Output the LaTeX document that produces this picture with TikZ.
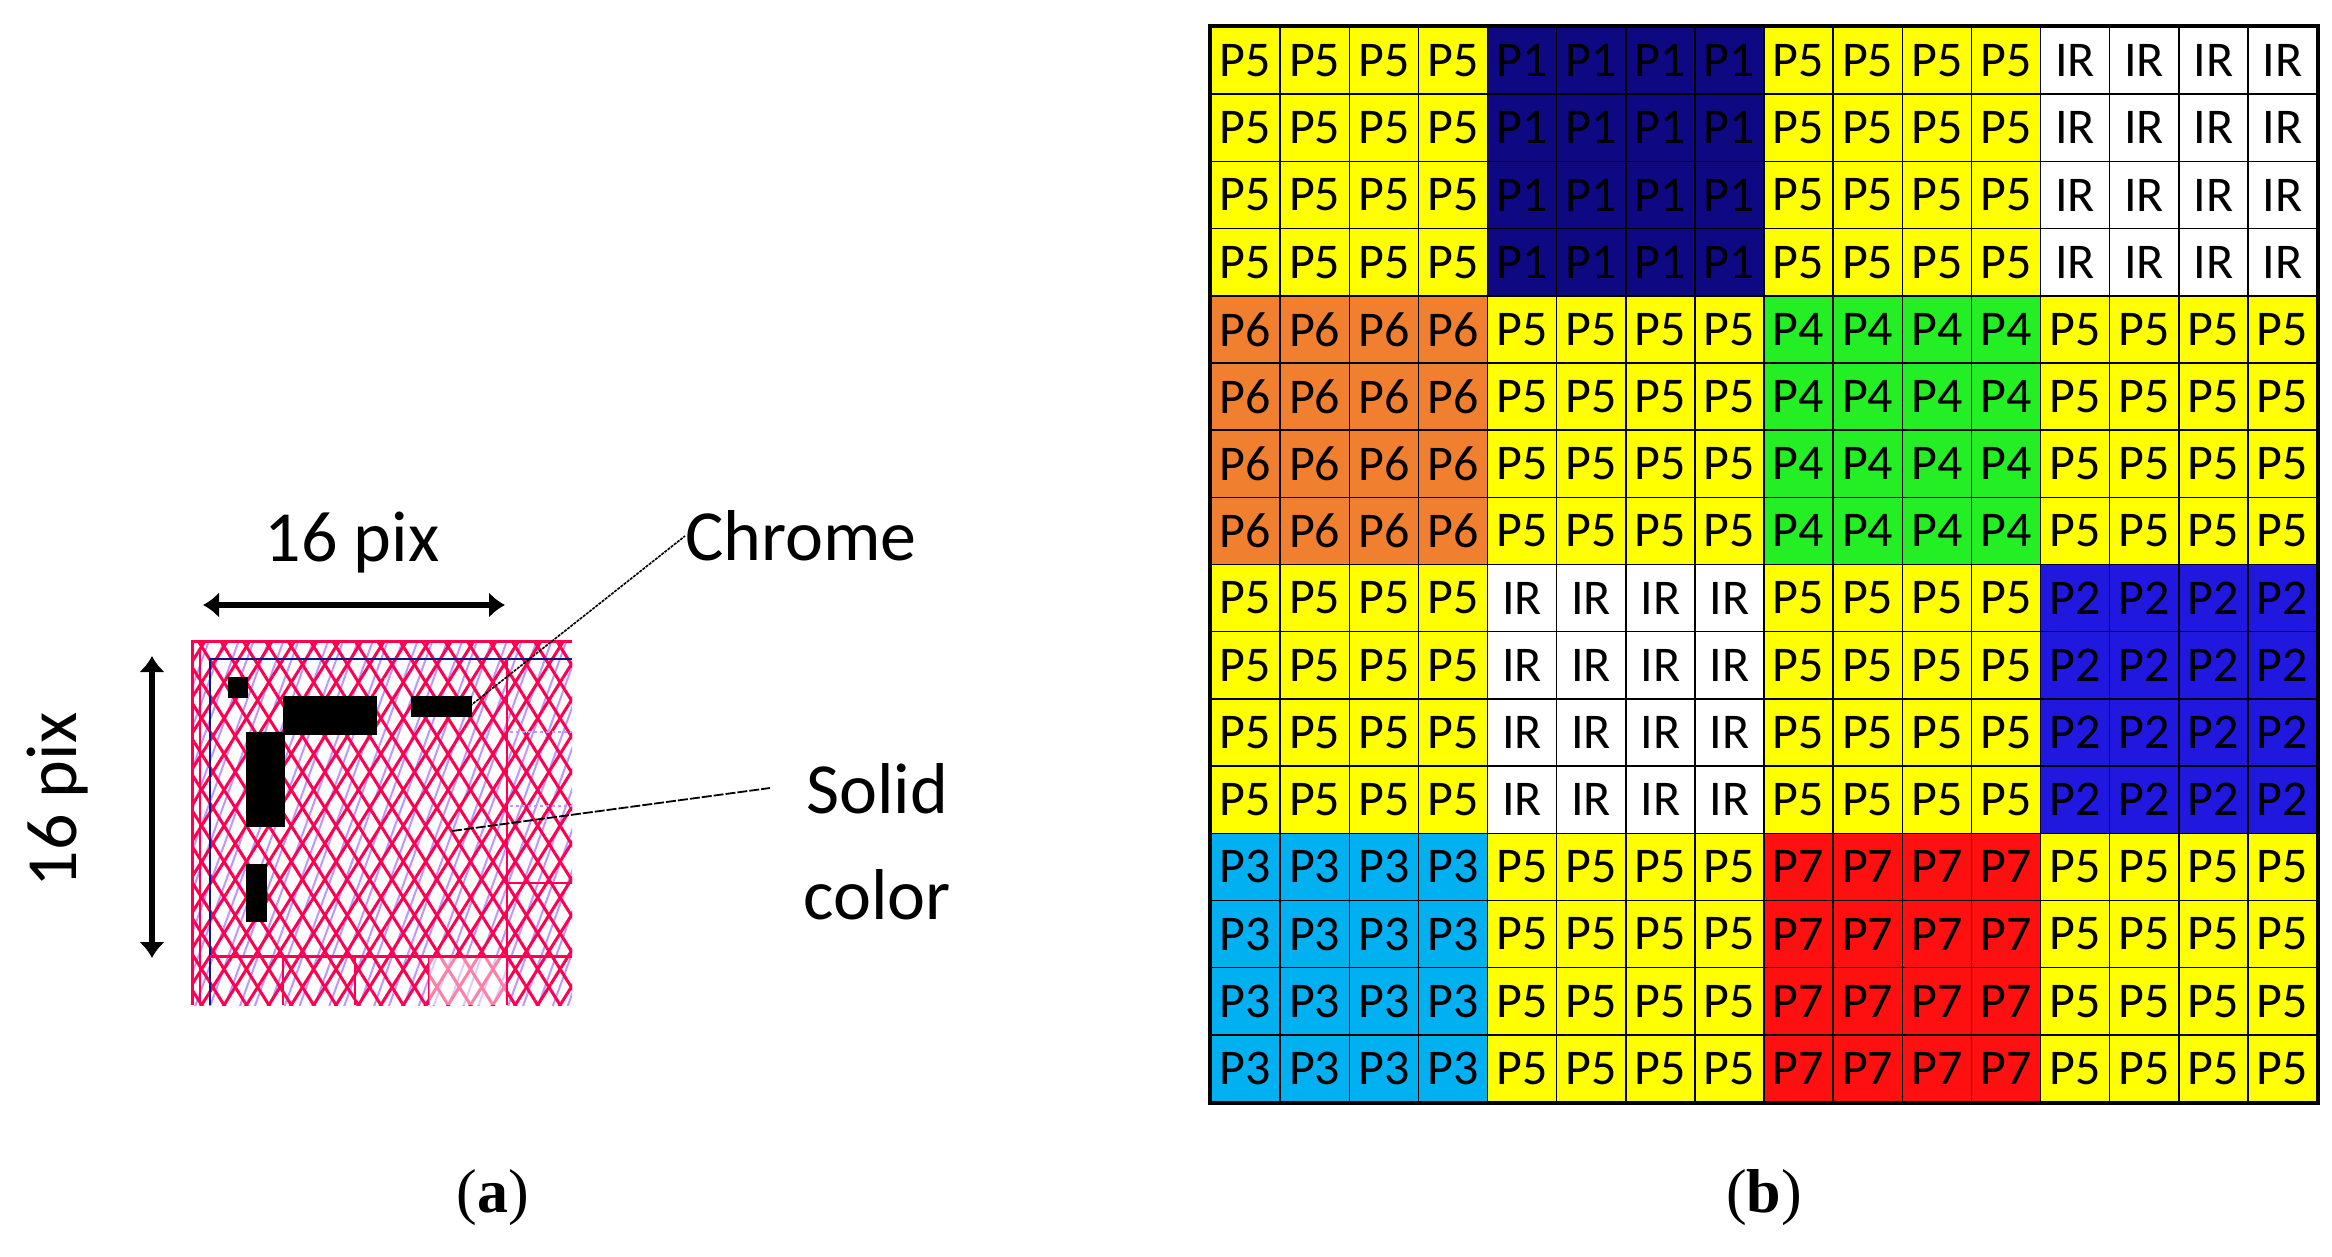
\documentclass[tikz,border=0pt]{standalone}
\usepackage{fontspec}
\setmainfont{Carlito}
\newfontfamily\capfont{Liberation Serif}
\usetikzlibrary{patterns.meta,arrows.meta}
\definecolor{cyel}{RGB}{255,255,0}
\definecolor{cnavy}{RGB}{14,8,130}
\definecolor{cor}{RGB}{240,128,48}
\definecolor{cgr}{RGB}{36,238,36}
\definecolor{cbl}{RGB}{32,24,222}
\definecolor{ccy}{RGB}{0,176,240}
\definecolor{cred}{RGB}{255,16,16}
\definecolor{pinkx}{RGB}{255,0,80}
\definecolor{lav}{RGB}{190,150,255}
\definecolor{navyl}{RGB}{20,20,120}
\tikzset{
 cell/.style={draw=black,line width=1.5pt,minimum width=69.125pt,minimum height=67.19pt,inner sep=0pt,font=\fontsize{50}{50}\selectfont},
 blk/.style={fill=black},
 dimarrow/.style={line width=6pt,{Latex[length=16pt,width=26pt]}-{Latex[length=16pt,width=26pt]}},
 leader/.style={line width=1.8pt,dash pattern=on 10pt off 2pt},
 lbl/.style={font=\fontsize{72}{72}\selectfont,inner sep=0pt},
 captxt/.style={font=\capfont\fontsize{62}{62}\selectfont,inner sep=0pt}
}
\begin{document}
\begin{tikzpicture}[x=1pt,y=-1pt]
\useasboundingbox (0,0) rectangle (2332,1256);
% ---------- (a) ----------
\begin{scope}
\clip (191,640) rectangle (572,1005);
\fill[white] (191,640) rectangle (572,1005);
\fill[pattern={Lines[angle=70,distance=14pt,line width=2pt]},pattern color=lav] (191,640) rectangle (572,1005);
\fill[pattern={Lines[angle=58,distance=19pt,line width=3pt]},pattern color=pinkx] (191,640) rectangle (572,1005);
\fill[pattern={Lines[angle=-58,distance=19pt,line width=3pt]},pattern color=pinkx] (191,640) rectangle (572,1005);
\end{scope}
\draw[pinkx,line width=3pt] (192,1005) -- (192,641) -- (572,641);
\draw[pinkx,line width=2pt] (200,1005) -- (200,649);
\draw[navyl,line width=2.5pt] (210,1005) -- (210,659) -- (572,659);
\draw[pinkx,line width=2.5pt] (507,659) -- (507,1005);
\draw[pinkx,line width=3pt] (210,956) -- (572,956);
\draw[pinkx,line width=2.5pt] (507,883) -- (572,883);
\draw[lav,line width=2.5pt,dashed] (510,732) -- (572,732) (510,806) -- (572,806);
\foreach \x in {283,355,429} \draw[pinkx,line width=2.5pt] (\x,956) -- (\x,1005);
\fill[white,opacity=0.5] (429,958) rectangle (506,1005);
\fill[blk] (228,677) rectangle (248,698);
\fill[blk] (283,696) rectangle (377,735);
\fill[blk] (246,732) rectangle (285,827);
\fill[blk] (411,696) rectangle (472,717);
\fill[blk] (246,864) rectangle (267,922);
\coordinate (hl) at (203,605); \coordinate (hr) at (505,605);
\draw[dimarrow] (hl) -- (hr);
\coordinate (vt) at (152,656); \coordinate (vb) at (152,958);
\draw[dimarrow] (vt) -- (vb);
\node[lbl] (wlab) at (352,543) {16 pix};
\node[lbl,rotate=90] (hlab) at (58,800) {16 pix};
\node[lbl,anchor=west] (chrome) at (685,536) {Chrome};
\node[lbl] (solid) at (877,789) {Solid};
\node[lbl] (color) at (877,895) {color};
\coordinate (chp) at (470,706);
\coordinate (scp) at (452,831);
\draw[line width=1.6pt,dash pattern=on 3pt off 1pt] (chp) -- (chrome.west);
\draw[leader] (scp) -- (770,788);
\node[captxt] (capa) at (493,1198) {(\textbf{a})};
\node[captxt] (capb) at (1764,1198) {(\textbf{b})};
% ---------- (b) ----------
\foreach \r in {0,...,15}{
 \foreach \c in {0,...,15}{
  \pgfmathtruncatemacro\b{4*int(\r/4)+int(\c/4)}
  \ifcase\b \def\lab{P5}\def\col{cyel}\or \def\lab{P1}\def\col{cnavy}\or \def\lab{P5}\def\col{cyel}\or \def\lab{IR}\def\col{white}
  \or \def\lab{P6}\def\col{cor}\or \def\lab{P5}\def\col{cyel}\or \def\lab{P4}\def\col{cgr}\or \def\lab{P5}\def\col{cyel}
  \or \def\lab{P5}\def\col{cyel}\or \def\lab{IR}\def\col{white}\or \def\lab{P5}\def\col{cyel}\or \def\lab{P2}\def\col{cbl}
  \or \def\lab{P3}\def\col{ccy}\or \def\lab{P5}\def\col{cyel}\or \def\lab{P7}\def\col{cred}\or \def\lab{P5}\def\col{cyel}\fi
  \node[cell,fill=\col] (c-\r-\c) at ({1211+69.125*(\c+0.5)},{27+67.19*(\r+0.5)}) {\lab};
 }
}
\draw[line width=4pt] (c-0-0.north west) rectangle (c-15-15.south east);
\end{tikzpicture}
\end{document}
